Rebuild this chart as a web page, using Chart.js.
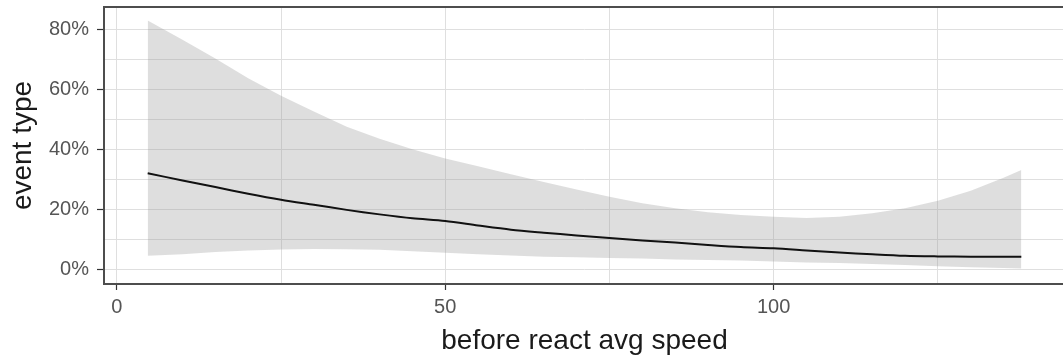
<!DOCTYPE html>
<html>
<head>
<meta charset="utf-8">
<script src="https://cdn.jsdelivr.net/npm/chart.js@4.4.1/dist/chart.umd.min.js"></script>
<style>
  html, body { margin: 0; padding: 0; background: #ffffff; overflow: hidden; }
  #wrap { width: 1070px; height: 358px; }
</style>
</head>
<body>
<div id="wrap"><canvas id="c" width="1070" height="358"></canvas></div>
<script>
// x values: before react avg speed
const speed = [4.7, 10, 15, 20, 25, 30, 35, 40, 45, 50, 55, 60, 65, 70, 75, 80, 85, 90, 95, 100, 105, 110, 115, 120, 125, 130, 135, 137.7];
// fitted event type (%)
const meanPct = [32.0, 29.6, 27.4, 25.2, 23.2, 21.5, 19.8, 18.3, 17.0, 16.1, 14.6, 13.2, 12.2, 11.3, 10.4, 9.6, 8.9, 8.1, 7.4, 7.0, 6.3, 5.6, 5.0, 4.5, 4.3, 4.2, 4.2, 4.2];
// confidence band upper (%)
const upperPct = [82.9, 76.5, 70.2, 63.7, 57.8, 52.6, 47.5, 43.5, 40.0, 36.9, 34.3, 31.7, 29.1, 26.6, 24.2, 22.0, 20.3, 19.0, 18.1, 17.5, 17.1, 17.5, 18.7, 20.3, 22.8, 26.2, 30.5, 33.1];
// confidence band lower (%)
const lowerPct = [4.5, 5.0, 5.8, 6.3, 6.6, 6.8, 6.7, 6.5, 6.0, 5.5, 5.0, 4.6, 4.2, 4.0, 3.8, 3.6, 3.3, 3.1, 2.9, 2.6, 2.3, 2.1, 1.8, 1.4, 1.0, 0.7, 0.4, 0.3];
// tick values
const xMajorTicks = [0, 50, 100];
const xMinorTicks = [25, 75, 125];
const yMajorTicks = [0, 20, 40, 60, 80];
const yMinorTicks = [10, 30, 50, 70];

const toPts = arr => speed.map((x, i) => ({ x: x, y: arr[i] }));

const gridCol = '#dfdfdf';
const tickCol = '#333333';
const fontFam = 'Liberation Sans, Arial, sans-serif';

const panelBorder = {
  id: 'panelBorder',
  afterDatasetsDraw(chart) {
    const { ctx, chartArea: a } = chart;
    ctx.save();
    ctx.strokeStyle = '#4d4d4d';
    ctx.lineWidth = 2;
    ctx.strokeRect(a.left, a.top, a.right - a.left, a.bottom - a.top);
    ctx.restore();
  }
};

new Chart(document.getElementById('c'), {
  type: 'line',
  data: {
    datasets: [
      {
        label: 'lower',
        data: toPts(lowerPct),
        borderWidth: 0,
        pointRadius: 0,
        fill: false,
        order: 3
      },
      {
        label: 'upper',
        data: toPts(upperPct),
        borderWidth: 0,
        pointRadius: 0,
        backgroundColor: 'rgba(153,153,153,0.32)',
        fill: 0,
        order: 2
      },
      {
        label: 'fit',
        data: toPts(meanPct),
        borderColor: '#111111',
        borderWidth: 2,
        pointRadius: 0,
        fill: false,
        tension: 0.3,
        order: 1
      }
    ]
  },
  options: {
    responsive: false,
    animation: false,
    layout: { padding: { left: 0, right: 5, top: 7, bottom: 0 } },
    plugins: { legend: { display: false }, tooltip: { enabled: false } },
    scales: {
      x: {
        type: 'linear',
        min: -1.95,
        max: 144.35,
        afterBuildTicks: s => { s.ticks = xMajorTicks.concat(xMinorTicks).sort((a, b) => a - b).map(v => ({ value: v })); },
        afterFit: s => { s.height = 74; s.paddingLeft = 0; s.paddingRight = 0; },
        border: { display: false },
        grid: {
          color: gridCol,
          lineWidth: 1,
          drawTicks: true,
          tickLength: 6,
          tickColor: ctx => xMajorTicks.includes(ctx.tick.value) ? tickCol : 'rgba(0,0,0,0)',
          tickWidth: 1.2
        },
        ticks: {
          autoSkip: false,
          maxRotation: 0,
          padding: 5,
          color: '#555555',
          font: { family: fontFam, size: 20 },
          callback: v => xMajorTicks.includes(v) ? String(v) : ''
        },
        title: {
          display: true,
          text: 'before react avg speed',
          color: '#1a1a1a',
          font: { family: fontFam, size: 28 },
          padding: { top: 0, bottom: 0 }
        }
      },
      y: {
        type: 'linear',
        min: -4.9,
        max: 87.4,
        afterBuildTicks: s => { s.ticks = yMajorTicks.concat(yMinorTicks).sort((a, b) => a - b).map(v => ({ value: v })); },
        afterFit: s => { s.width = 104; s.paddingTop = 0; s.paddingBottom = 0; },
        border: { display: false },
        grid: {
          color: gridCol,
          lineWidth: 1,
          drawTicks: true,
          tickLength: 7,
          tickColor: ctx => yMajorTicks.includes(ctx.tick.value) ? tickCol : 'rgba(0,0,0,0)',
          tickWidth: 1.2
        },
        ticks: {
          autoSkip: false,
          padding: 8,
          color: '#555555',
          font: { family: fontFam, size: 20 },
          callback: v => yMajorTicks.includes(v) ? v + '%' : ''
        },
        title: {
          display: true,
          text: 'event type',
          color: '#1a1a1a',
          font: { family: fontFam, size: 28 },
          padding: { top: 6, bottom: 0 }
        }
      }
    }
  },
  plugins: [panelBorder]
});
</script>
</body>
</html>
